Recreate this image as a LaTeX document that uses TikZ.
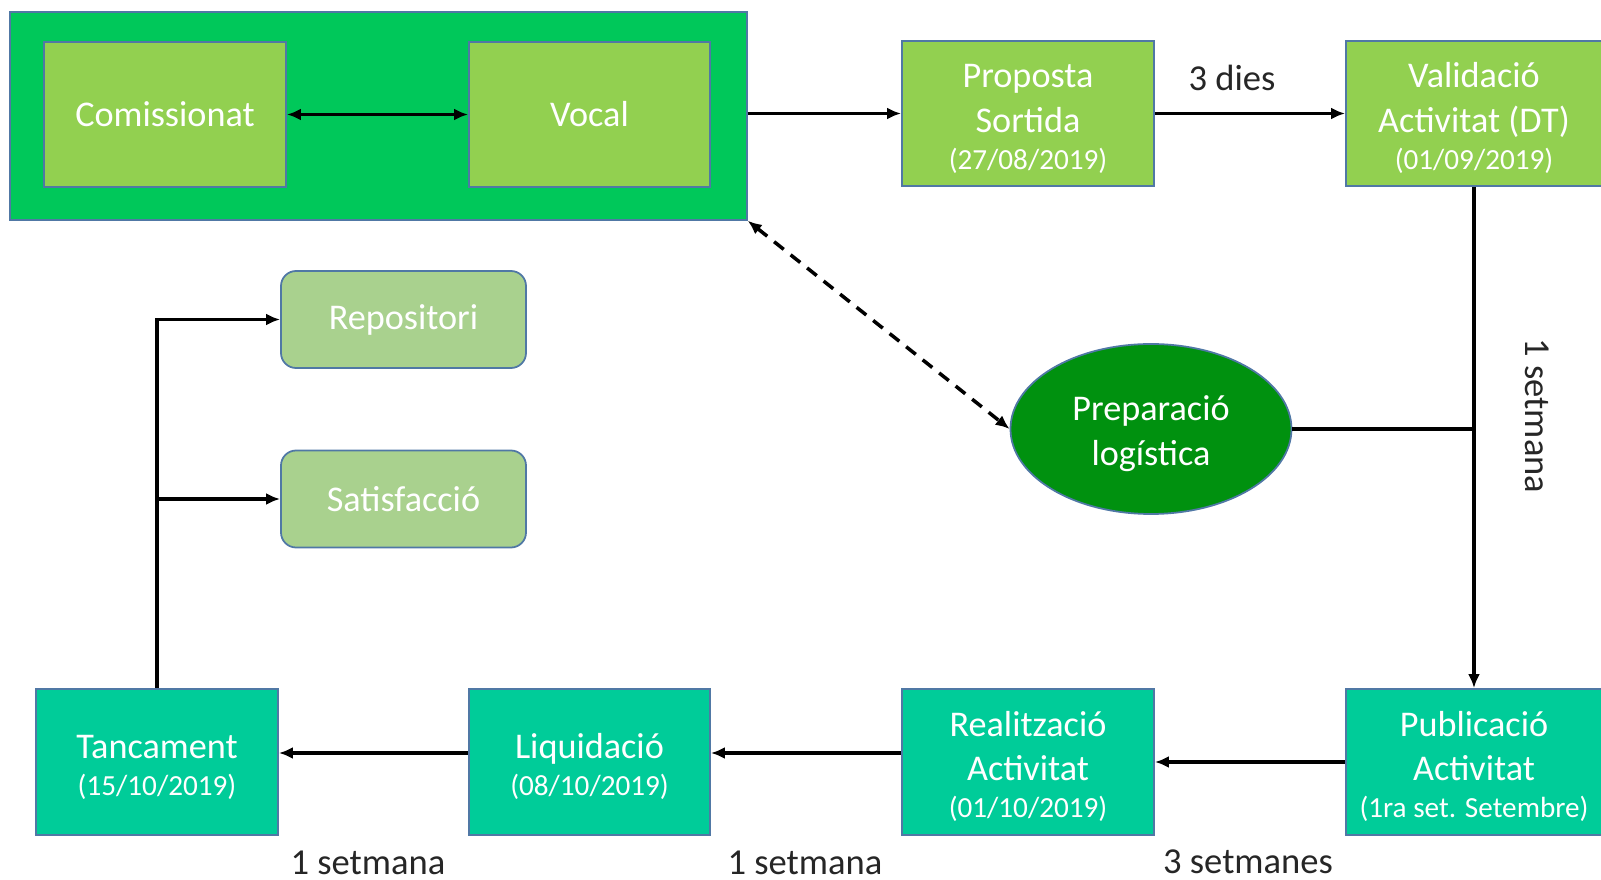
\documentclass[tikz,border=0pt]{standalone}
\usepackage{fontspec}
\setmainfont{Carlito}
\usetikzlibrary{arrows.meta, shapes.geometric}
\definecolor{groupgreen}{RGB}{0,200,90}
\definecolor{lightgreen}{RGB}{146,208,80}
\definecolor{palegreen}{RGB}{169,209,142}
\definecolor{darkgreen}{RGB}{0,145,15}
\definecolor{tealgreen}{RGB}{0,204,153}
\definecolor{edgeblue}{RGB}{80,120,165}
\newcommand{\datetxt}[1]{{\fontsize{8.3}{10}\selectfont #1}}
\newcommand{\hstrut}{\rule{0pt}{9.8pt}}

\begin{document}
\begin{tikzpicture}[
  box/.style={draw=edgeblue, line width=0.5pt, text=white, align=center, inner sep=0pt, font=\fontsize{10.3}{12.6}\selectfont},
  topbox/.style={box, fill=lightgreen, minimum height=1.45cm},
  lowbox/.style={box, fill=tealgreen, minimum height=1.46cm},
  roundbox/.style={box, fill=palegreen, rounded corners=0.15cm, minimum width=2.45cm, minimum height=0.97cm},
  flow/.style={line width=0.9pt, -{Latex[length=4pt,width=3.4pt]}},
  lbl/.style={font=\fontsize{10.4}{12.6}\selectfont, text=black!85}
]
\useasboundingbox (0, 0) rectangle (16.01, 8.80);
% top row
\node [draw=edgeblue, fill=groupgreen, minimum width=7.37cm, minimum height=2.08cm, inner sep=0pt] (grup) at (3.785, 7.64) {};
\node [topbox, minimum width=2.42cm] (com) at (1.65, 7.655) {Comissionat};
\node [topbox, minimum width=2.41cm] (voc) at (5.895, 7.655) {Vocal};
\node [topbox, minimum width=2.52cm] (pro) at (10.28, 7.665) {\hstrut Proposta\\Sortida\\[-2pt]\datetxt{(27/08/2019)}};
\node [topbox, minimum width=2.56cm] (val) at (14.74, 7.665) {\hstrut Validació\\Activitat (DT)\\[-2pt]\datetxt{(01/09/2019)}};
% middle
\node [roundbox] (rep) at (4.035, 5.605) {Repositori};
\node [roundbox] (sat) at (4.035, 3.81) {Satisfacció};
\node [box, ellipse, fill=darkgreen, minimum width=2.81cm, minimum height=1.70cm] (prep) at (11.51, 4.51) {\hstrut Preparació\\logística};
% bottom row
\node [lowbox, minimum width=2.42cm] (tan) at (1.57, 1.18) {\hstrut Tancament\\[-2pt]\datetxt{(15/10/2019)}};
\node [lowbox, minimum width=2.41cm] (liq) at (5.895, 1.18) {\hstrut Liquidació\\[-2pt]\datetxt{(08/10/2019)}};
\node [lowbox, minimum width=2.52cm] (rea) at (10.28, 1.18) {\hstrut Realització\\Activitat\\[-2pt]\datetxt{(01/10/2019)}};
\node [lowbox, minimum width=2.56cm] (pub) at (14.74, 1.18) {\hstrut Publicació\\Activitat\\[-2pt]\datetxt{(1ra set. Setembre)}};
% connectors
\draw [line width=0.9pt, {Latex[length=4pt,width=3.4pt]}-{Latex[length=4pt,width=3.4pt]}] (com.east) -- (voc.west);
\draw [flow] (grup.east |- pro.west) -- (pro.west);
\draw [flow] (pro.east) -- (val.west);
\node [lbl] (l1) at (12.32, 8.02) {3 dies};
\draw [flow] (val.south) -- (pub.north);
\draw [line width=0.9pt] (prep.east) -- (prep.east -| val.south);
\node [lbl, rotate=-90] (l2) at (15.37, 4.64) {1 setmana};
\draw [line width=1pt, dash pattern=on 3.5pt off 2.5pt, {Latex[length=4pt,width=3.4pt]}-{Latex[length=4pt,width=3.4pt]}] (grup.south east) -- (prep.west);
\draw [flow] (pub.west) -- (rea.east);
\node [lbl] (l3) at (12.48, 0.18) {3 setmanes};
\draw [flow] ([yshift=0.09cm]rea.west) -- ([yshift=0.09cm]liq.east);
\node [lbl] (l4) at (8.05, 0.17) {1 setmana};
\draw [flow] ([yshift=0.09cm]liq.west) -- ([yshift=0.09cm]tan.east);
\node [lbl] (l5) at (3.68, 0.17) {1 setmana};
\draw [flow] (tan.north) |- (rep.west);
\draw [flow] (tan.north |- sat.west) -- (sat.west);
\end{tikzpicture}
\end{document}
